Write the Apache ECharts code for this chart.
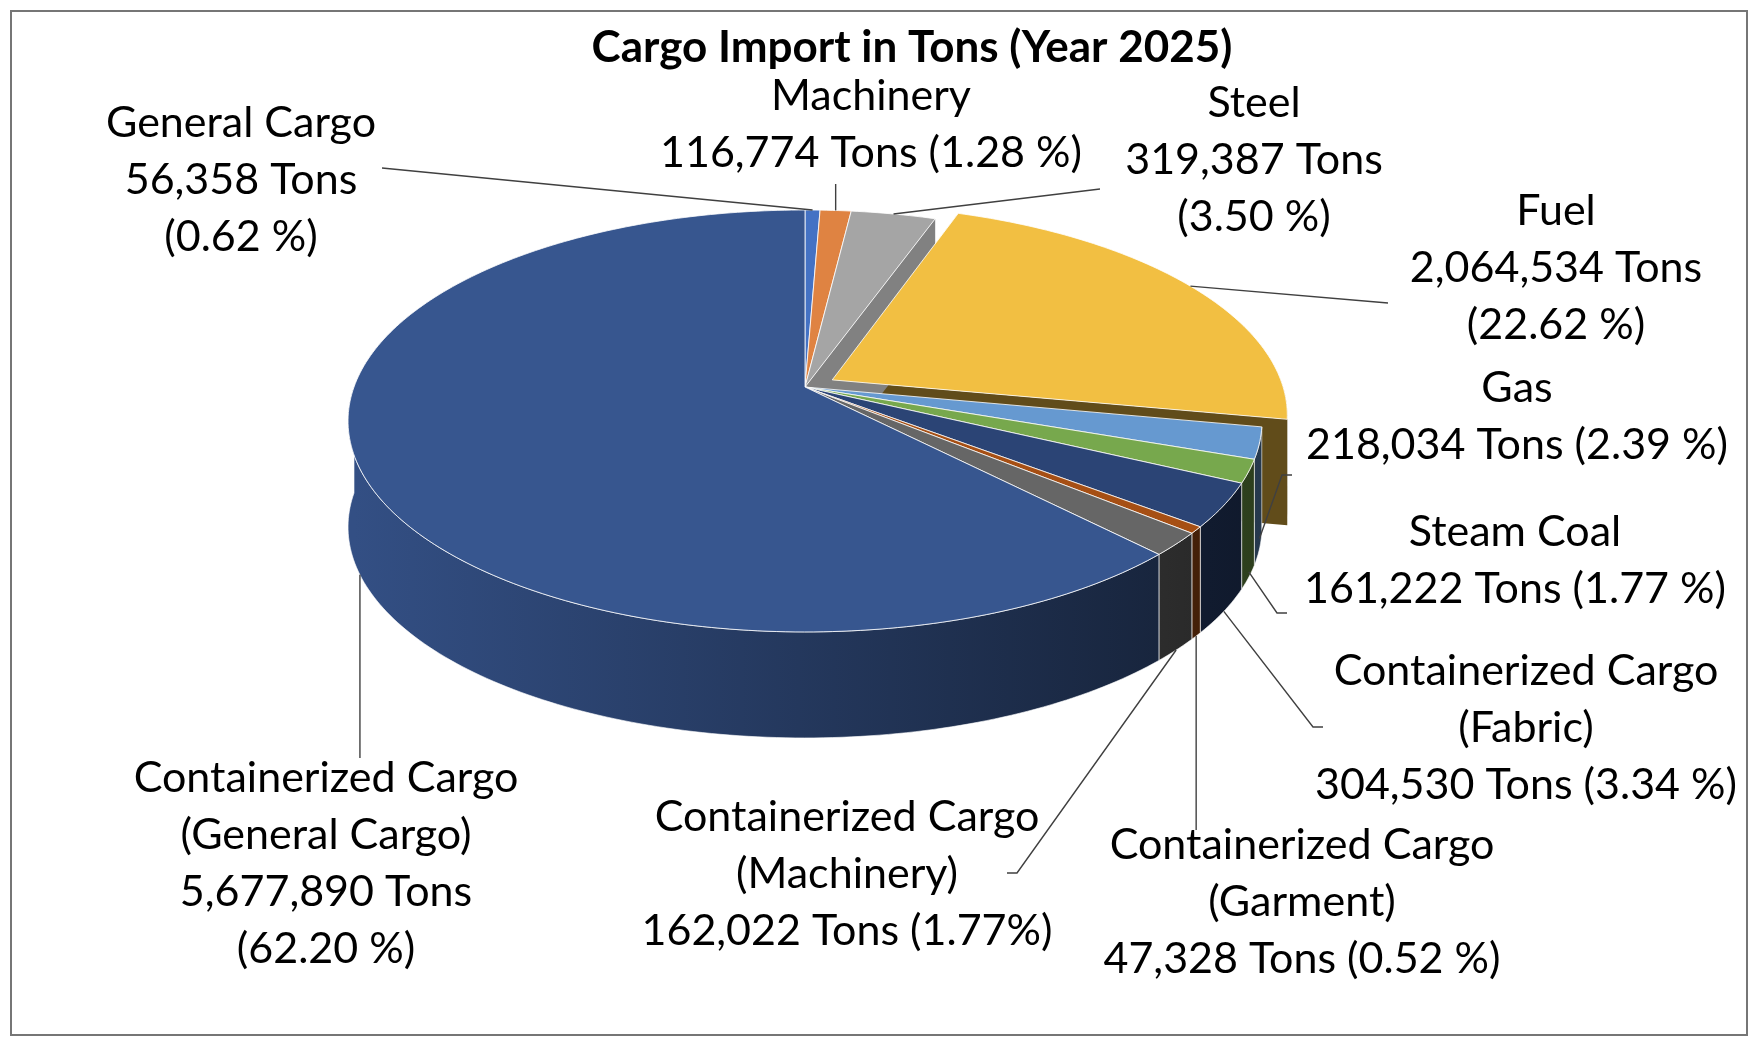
<!DOCTYPE html>
<html>
<head>
<meta charset="utf-8">
<title>Cargo Import in Tons (Year 2025)</title>
<script src="https://cdn.jsdelivr.net/npm/echarts@6/dist/echarts.min.js"></script>
<style>
  html, body { margin: 0; padding: 0; background: #fff; }
  #chart { width: 1760px; height: 1044px; }
</style>
</head>
<body>
<div id="chart"></div>
<script>
// slices, clockwise from 12 o'clock
const categories = [
  'General Cargo', 'Machinery', 'Steel', 'Fuel', 'Gas', 'Steam Coal',
  'Containerized Cargo (Fabric)', 'Containerized Cargo (Garment)',
  'Containerized Cargo (Machinery)', 'Containerized Cargo (General Cargo)'
];
const tons = [56358, 116774, 319387, 2064534, 218034, 161222, 304530, 47328, 162022, 5677890];
const sliceColors = ['#4472C4', '#DF8342', '#A5A5A5', '#F2BF42', '#6699D0', '#77A84D',
  '#2B4475', '#A64F14', '#666666', '#37568F'];
// line breaks of each data label: {n} name, {t} tons, {p} percent
const labelFormats = [
  '{n}\n{t} Tons\n({p} %)',
  '{n}\n{t} Tons ({p} %)',
  '{n}\n{t} Tons\n({p} %)',
  '{n}\n{t} Tons\n({p} %)',
  '{n}\n{t} Tons ({p} %)',
  '{n}\n{t} Tons ({p} %)',
  '{n}\n{t} Tons ({p} %)',
  '{n}\n{t} Tons ({p} %)',
  '{n}\n{t} Tons ({p}%)',
  '{n}\n{t} Tons\n({p} %)'
];

// label layout (manually placed labels, as in the original)
const labelCenters = [[241, 180], [871, 125], [1254, 160], [1556, 268], [1517, 417],
  [1515, 561], [1526, 728], [1302, 902], [847, 874], [326, 864]];
// where the leader line stops: [x or null for vertical, y, horizontal elbow]
const leaderEnds = [[382, 168, 0], [null, 184, 0], [1100, 189, 0], [1388, 303, 0], [1282, 475, 10],
  [1277, 613, 10], [1313, 727, 10], [null, 830, 0], [1017, 873, -10], [null, 758, 0]];
// leader anchor on the slice: 0 = top rim, 1 = bottom of the side wall
const leaderDepth = [0, 0, 0, 0, 0.9, 0.95, 1, 1, 1, 1];

// 3D pie geometry
const CX = 805, CY = 387, RX = 451, RY = 205.5, PERSP = 0.161, DEPTH = 106;
const EXPLODED = 'Fuel', EXPLODE = 0.07;
const FONT = 'Lato, "Noto Sans", sans-serif';

const total = tons.reduce((a, b) => a + b, 0);
const cumStart = [];
tons.reduce((acc, v, i) => { cumStart[i] = acc; return acc + v; }, 0);

function pt(theta, r, off, h) {
  const u = r * Math.sin(theta) + off[0];
  const v = r * Math.cos(theta) + off[1];
  const s = 1 + PERSP * v;
  return [CX + RX * u / s, CY - RY * v / s + h * DEPTH];
}

function arc(a0, a1, off, h) {
  const n = Math.max(2, Math.ceil((a1 - a0) / (Math.PI / 180)) + 1);
  const pts = [];
  for (let k = 0; k < n; k++) pts.push(pt(a0 + (a1 - a0) * k / (n - 1), 1, off, h));
  return pts;
}

function shade(hex, f) {
  const n = parseInt(hex.slice(1), 16);
  const r = Math.round(((n >> 16) & 255) * f);
  const g = Math.round(((n >> 8) & 255) * f);
  const b = Math.round((n & 255) * f);
  return 'rgb(' + r + ',' + g + ',' + b + ')';
}

function wallFill(hex) {
  return {
    type: 'linear', x: CX - RX, y: 0, x2: CX + RX * 1.05, y2: 0, global: true,
    colorStops: [{ offset: 0, color: shade(hex, 0.92) }, { offset: 1, color: shade(hex, 0.36) }]
  };
}

function labelText(i) {
  const pct = (tons[i] / total * 100).toFixed(2);
  return labelFormats[i]
    .replace('{n}', categories[i].replace(' (', '\n('))
    .replace('{t}', tons[i].toLocaleString('en-US'))
    .replace('{p}', pct);
}

function renderItem(params, api) {
  const i = params.dataIndex;
  const a0 = cumStart[i] / total * Math.PI * 2;
  const a1 = a0 + api.value(0) / total * Math.PI * 2;
  const mid = (a0 + a1) / 2;
  const isExp = categories[i] === EXPLODED;
  const off = isExp ? [EXPLODE * Math.sin(mid), EXPLODE * Math.cos(mid)] : [0, 0];
  const color = sliceColors[i];
  const children = [];

  // outer wall, front half only
  const w0 = Math.max(a0, Math.PI / 2), w1 = Math.min(a1, Math.PI * 1.5);
  if (w1 > w0) {
    const pts = arc(w0, w1, off, 0).concat(arc(w0, w1, off, 1).reverse());
    children.push({
      type: 'polygon', z2: isExp ? 1 : 2,
      shape: { points: pts },
      style: { fill: wallFill(color), stroke: 'rgba(255,255,255,0.6)', lineWidth: 1 }
    });
  }

  // cut faces, only where a gap opens next to the exploded slice
  const nextExp = categories[(i + 1) % categories.length] === EXPLODED;
  const prevExp = categories[(i - 1 + categories.length) % categories.length] === EXPLODED;
  const faces = [];
  if (Math.sin(a1) > 0.001 && (isExp || nextExp)) faces.push([a1, Math.cos(a1)]);
  if (Math.sin(a0) < -0.001 && (isExp || prevExp)) faces.push([a0, -Math.cos(a0)]);
  faces.forEach(function (f) {
    const a = f[0];
    children.push({
      type: 'polygon', z2: isExp ? 1 : 1.5,
      shape: { points: [pt(a, 0, off, 0), pt(a, 1, off, 0), pt(a, 1, off, 1), pt(a, 0, off, 1)] },
      style: { fill: shade(color, f[1] > 0 ? 0.78 : 0.4) }
    });
  });

  // top face
  children.push({
    type: 'polygon', z2: 3,
    shape: { points: [pt(0, 0, off, 0)].concat(arc(a0, a1, off, 0)) },
    style: { fill: color, stroke: 'rgba(255,255,255,0.8)', lineWidth: 1 }
  });

  // leader line
  const anchor = pt(mid, 1, off, leaderDepth[i]);
  const end = leaderEnds[i];
  const p1 = [end[0] === null ? anchor[0] : end[0], end[1]];
  const line = [anchor, p1];
  if (end[2]) line.push([p1[0] + end[2], p1[1]]);
  children.push({
    type: 'polyline', z2: 5,
    shape: { points: line },
    style: { stroke: '#404040', lineWidth: 1.4, fill: null }
  });

  // data label
  children.push({
    type: 'text', z2: 6,
    style: {
      text: labelText(i),
      x: labelCenters[i][0], y: labelCenters[i][1],
      align: 'center', verticalAlign: 'middle',
      fontFamily: FONT, fontSize: 43, lineHeight: 57, fill: '#000'
    }
  });

  return { type: 'group', children: children };
}

const chart = echarts.init(document.getElementById('chart'));
chart.setOption({
  animation: false,
  backgroundColor: '#fff',
  title: {
    text: 'Cargo Import in Tons (Year 2025)',
    left: 907, top: 21, textAlign: 'center',
    textStyle: { fontFamily: FONT, fontWeight: 'bold', fontSize: 44, color: '#000' }
  },
  graphic: [{
    type: 'rect', z: -1,
    shape: { x: 11, y: 11, width: 1736, height: 1024 },
    style: { fill: null, stroke: '#767676', lineWidth: 2 }
  }],
  series: [{
    type: 'custom',
    coordinateSystem: 'none',
    silent: true,
    renderItem: renderItem,
    data: tons.map(function (v, i) { return { name: categories[i], value: v }; })
  }]
});
</script>
</body>
</html>
